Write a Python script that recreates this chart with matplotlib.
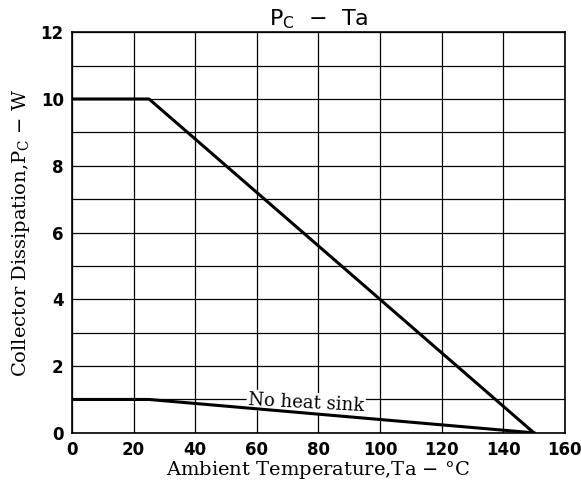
import matplotlib.pyplot as plt

# derating curves
ta_hs = [0, 25, 150]
pc_hs = [10, 10, 0]
ta_nohs = [0, 25, 150]
pc_nohs = [1, 1, 0]

xticks = [0, 20, 40, 60, 80, 100, 120, 140, 160]
yticks = [0, 2, 4, 6, 8, 10, 12]

fig = plt.figure(figsize=(5.81, 4.88), dpi=100)
ax = fig.add_axes([0.124, 0.113, 0.848, 0.821])

ax.plot(ta_hs, pc_hs, color='black', lw=2.2, zorder=3)
ax.plot(ta_nohs, pc_nohs, color='black', lw=2.2, zorder=3)

ax.set_xlim(0, 160)
ax.set_ylim(0, 12)
ax.set_xticks(xticks)
ax.set_yticks(yticks)
ax.set_xticks(range(0, 161, 20), minor=True)
ax.set_yticks(range(0, 13), minor=True)
ax.grid(True, which='both', color='black', lw=0.9)
ax.tick_params(which='both', length=0, labelsize=12, pad=6)
for lab in ax.get_xticklabels() + ax.get_yticklabels():
    lab.set_fontweight('bold')
for sp in ax.spines.values():
    sp.set_linewidth(1.2)

ax.text(76, 0.9, 'No heat sink', family='DejaVu Serif', fontsize=13,
        rotation=-3, ha='center', va='center', zorder=2.5,
        bbox=dict(facecolor='white', edgecolor='none', pad=1))

ax.set_title('P$_\\mathregular{C}$  $-$  Ta', fontsize=16, pad=5)
ax.set_xlabel('Ambient Temperature,Ta $-$ °C', family='DejaVu Serif', fontsize=14, labelpad=0)
ax.set_ylabel('Collector Dissipation,P$_\\mathregular{C}$ $-$ W', family='DejaVu Serif', fontsize=14, labelpad=6)

plt.savefig('out.png')
